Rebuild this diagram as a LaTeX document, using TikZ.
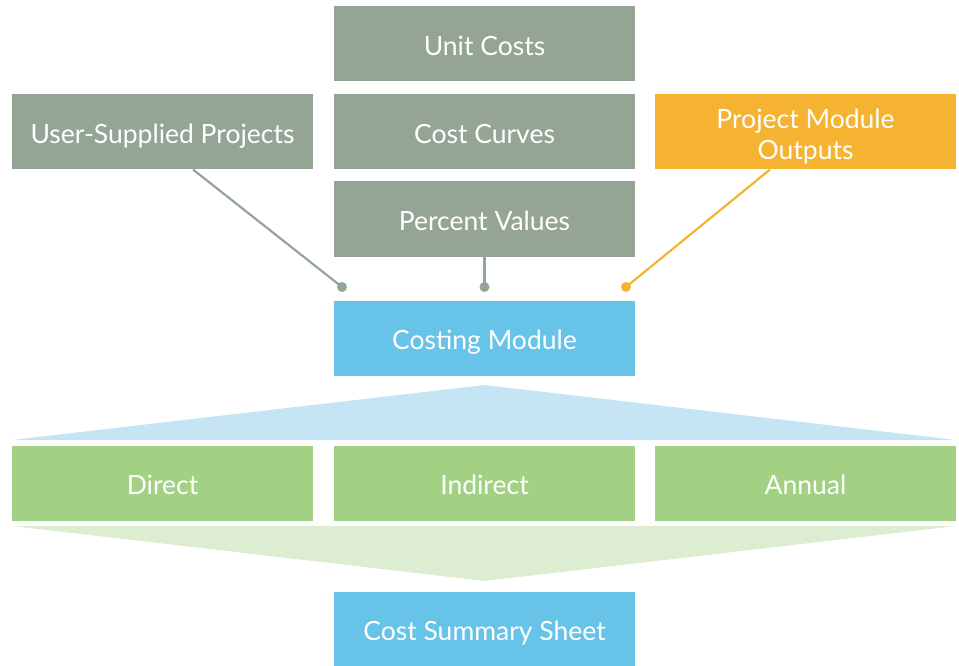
\documentclass[tikz,border=0pt]{standalone}
\usepackage{fontspec}
\setmainfont{Lato}
\definecolor{sage}{HTML}{95A595}
\definecolor{orng}{HTML}{F6B331}
\definecolor{sky}{HTML}{67C4E8}
\definecolor{lsky}{HTML}{C5E4F4}
\definecolor{grn}{HTML}{A3D184}
\definecolor{lgrn}{HTML}{DDEDD2}
\begin{document}
\begin{tikzpicture}[x=1pt,y=-1pt,
  box/.style={minimum width=301pt,minimum height=75pt,inner sep=0pt,text=white,font=\fontsize{26.5}{31.5}\selectfont},
  one/.style={box,text height=24.5pt,text depth=1pt},
  link/.style={line width=2.2pt},
  dot/.style={circle,inner sep=0pt,minimum size=10pt}]
\useasboundingbox (0,0) rectangle (959,666);
% boxes
\node[one,fill=sage] (unit) at (484.5,44) {Unit Costs};
\node[one,fill=sage] (curves) at (484.5,132) {Cost Curves};
\node[one,fill=sage] (pct) at (484.5,219) {Percent Values};
\node[one,fill=sage] (user) at (162.5,132) {User-Supplied Projects};
\node[box,fill=orng] (pmo) at (805.5,132) {\raisebox{-11.5pt}[30pt][30pt]{\begin{tabular}{@{}c@{}}Project Module\\[-0.5pt]Outputs\end{tabular}}};
\node[one,fill=sky] (cost) at (484.5,338) {Costing Module};
\node[one,fill=grn] (direct) at (162.5,483) {Direct};
\node[one,fill=grn] (indirect) at (484.5,483) {Indirect};
\node[one,fill=grn] (annual) at (805.5,483) {Annual};
\node[one,fill=sky] (summary) at (484.5,629) {Cost Summary Sheet};
% triangles
\fill[lsky] (12,440) -- (484.5,385) -- (956,440) -- cycle;
\fill[lgrn] (12,526) -- (956,526) -- (484.5,581) -- cycle;
% connectors
\node[dot,fill=sage] (d1) at (342,287) {};
\node[dot,fill=sage] (d2) at (484.5,287) {};
\node[dot,fill=orng] (d3) at (626,287) {};
\coordinate (u1) at (193,169.5);
\coordinate (o1) at (770,169.5);
\draw[link,sage] (u1) -- (d1.center);
\draw[link,sage] (pct.south) -- (d2.center);
\draw[link,orng] (o1) -- (d3.center);
\end{tikzpicture}
\end{document}
